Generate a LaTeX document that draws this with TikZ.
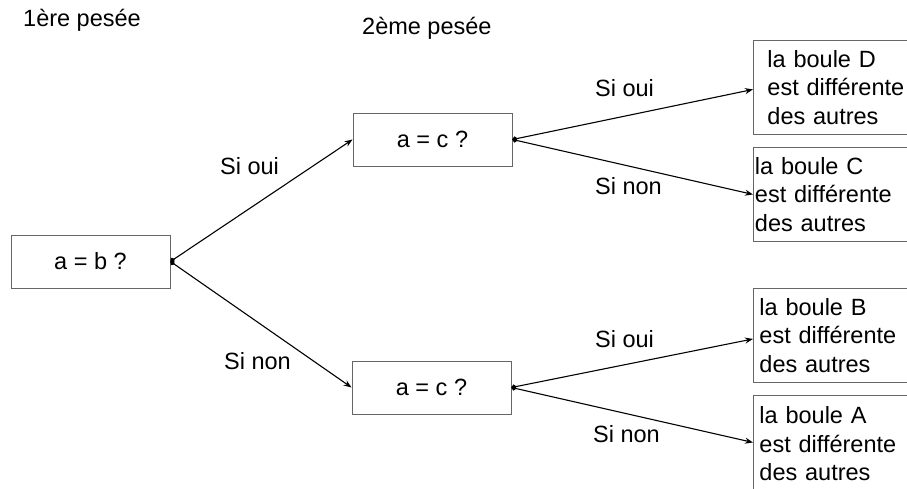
\documentclass[tikz,border=0pt]{standalone}
\usepackage{fontspec}
\setmainfont{Liberation Sans}
\usetikzlibrary{arrows.meta}
\begin{document}
\begin{tikzpicture}[x=1pt,y=-1pt,
  every node/.style={font=\fontsize{23.5}{28.5}\selectfont},
  qbox/.style={draw=black!60, line width=0.9pt, minimum width=159pt, minimum height=53pt, inner sep=0pt},
  leaf/.style={draw=black!60, line width=0.9pt, text width=200pt, align=left, minimum height=94pt, anchor=north west, inner ysep=0pt},
  conn/.style={line width=1.1pt, {Circle[length=5pt]}-{Stealth[length=8pt,width=6pt]}},
  lbl/.style={anchor=base west, inner sep=0pt}]
\useasboundingbox (0,0) rectangle (907,489);
\clip (0,0) rectangle (907,489);
% titles
\node[lbl] (t1) at (23,27) {1ère pesée};
\node[lbl] (t2) at (362,35) {2ème pesée};
% question boxes
\node[qbox] (ab) at (90.5,261.5) {a = b ?};
\node[qbox] (c1) at (432.5,139.5) {a = c ?};
\node[qbox] (c2) at (431.5,387.5) {a = c ?};
% leaves
\node[leaf, inner xsep=14pt] (D) at (753,40) {la boule D\\est différente\\des autres};
\node[leaf, inner xsep=1.5pt] (C) at (753,147) {la boule C\\est différente\\des autres};
\node[leaf, inner xsep=6pt] (B) at (753,288) {la boule B\\est différente\\des autres};
\node[leaf, inner xsep=6pt, minimum height=97pt] (A) at (753,395) {la boule A\\est différente\\des autres};
% connectors
\draw[conn] (ab.east) -- (c1.west);
\draw[conn] (ab.east) -- (c2.west);
\draw[conn] (c1.east) -- ([yshift=-2pt]D.west);
\draw[conn] (c1.east) -- (C.west);
\draw[conn] (c2.east) -- ([yshift=-3.5pt]B.west);
\draw[conn] (c2.east) -- ([yshift=1.5pt]A.west);
% labels
\node[lbl] (l1) at (220,175) {Si oui};
\node[lbl] (l2) at (224,369) {Si non};
\node[lbl] (l3) at (595,97) {Si oui};
\node[lbl] (l4) at (595,195) {Si non};
\node[lbl] (l5) at (595,347) {Si oui};
\node[lbl] (l6) at (593,442) {Si non};
\end{tikzpicture}
\end{document}
